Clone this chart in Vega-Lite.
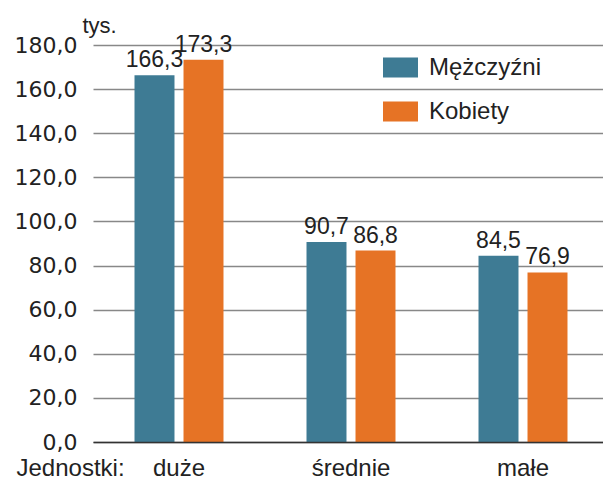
{
  "$schema": "https://vega.github.io/schema/vega-lite/v6.json",
  "width": 516,
  "height": 397,
  "autosize": {"type": "none"},
  "padding": {"left": 93, "top": 45, "right": 0, "bottom": 35},
  "background": "white",
  "config": {
    "view": {"stroke": null},
    "font": "Liberation Sans",
    "locale": {"number": {"decimal": ",", "thousands": " ", "grouping": [3], "currency": ["", ""]}}
  },
  "data": {
    "values": [
      {"jednostki": "duże", "plec": "Mężczyźni", "value": 166.3},
      {"jednostki": "duże", "plec": "Kobiety", "value": 173.3},
      {"jednostki": "średnie", "plec": "Mężczyźni", "value": 90.7},
      {"jednostki": "średnie", "plec": "Kobiety", "value": 86.8},
      {"jednostki": "małe", "plec": "Mężczyźni", "value": 84.5},
      {"jednostki": "małe", "plec": "Kobiety", "value": 76.9}
    ]
  },
  "encoding": {
    "x": {
      "field": "jednostki",
      "type": "nominal",
      "sort": ["duże", "średnie", "małe"],
      "scale": {"paddingInner": 0, "paddingOuter": 0},
      "axis": {
        "title": "Jednostki:",
        "titleFont": "Liberation Sans",
        "titleFontWeight": "normal",
        "titleFontSize": 24,
        "titleColor": "#222",
        "titleAnchor": "start",
        "titleAlign": "left",
        "titleBaseline": "alphabetic",
        "titleX": -77,
        "titleY": 33,
        "labelFontSize": 24,
        "labelColor": "#222",
        "labelAngle": 0,
        "labelBaseline": "alphabetic",
        "labelPadding": 33,
        "ticks": false,
        "domainColor": "#333",
        "domainWidth": 1.5,
        "zindex": 1
      }
    },
    "xOffset": {
      "field": "plec",
      "type": "nominal",
      "sort": ["Mężczyźni", "Kobiety"],
      "scale": {"paddingInner": 0.184, "paddingOuter": 0.847}
    },
    "y": {
      "field": "value",
      "type": "quantitative",
      "scale": {"domain": [0, 180], "nice": false},
      "axis": {
        "values": [0, 20, 40, 60, 80, 100, 120, 140, 160, 180],
        "format": ".1f",
        "title": "tys.",
        "titleAngle": 0,
        "titleFontWeight": "normal",
        "titleFontSize": 22,
        "titleColor": "#222",
        "titleAlign": "center",
        "titleBaseline": "alphabetic",
        "titleX": 6,
        "titleY": -13,
        "labelFont": "DejaVu Sans",
        "labelFontSize": 22,
        "labelColor": "#222",
        "labelPadding": 16,
        "ticks": false,
        "domain": false,
        "grid": true,
        "gridColor": "#888",
        "gridWidth": 1.5
      }
    }
  },
  "layer": [
    {
      "mark": {"type": "bar"},
      "encoding": {
        "color": {
          "field": "plec",
          "type": "nominal",
          "sort": ["Mężczyźni", "Kobiety"],
          "scale": {"domain": ["Mężczyźni", "Kobiety"], "range": ["#3e7b94", "#e67325"]},
          "legend": {
            "title": null,
            "orient": "none",
            "legendX": 290,
            "legendY": 5,
            "symbolType": "M-1,-0.571H1V0.571H-1Z",
            "symbolSize": 1225,
            "symbolStrokeWidth": 0,
            "symbolOpacity": 1,
            "labelFontSize": 24,
            "labelColor": "#222",
            "labelOffset": 11,
            "rowPadding": 14,
            "labelLimit": 300
          }
        }
      }
    },
    {
      "mark": {"type": "text", "baseline": "alphabetic", "dy": -8, "fontSize": 23, "color": "#222"},
      "encoding": {
        "text": {"field": "value", "type": "quantitative", "format": ".1f"}
      }
    }
  ]
}
